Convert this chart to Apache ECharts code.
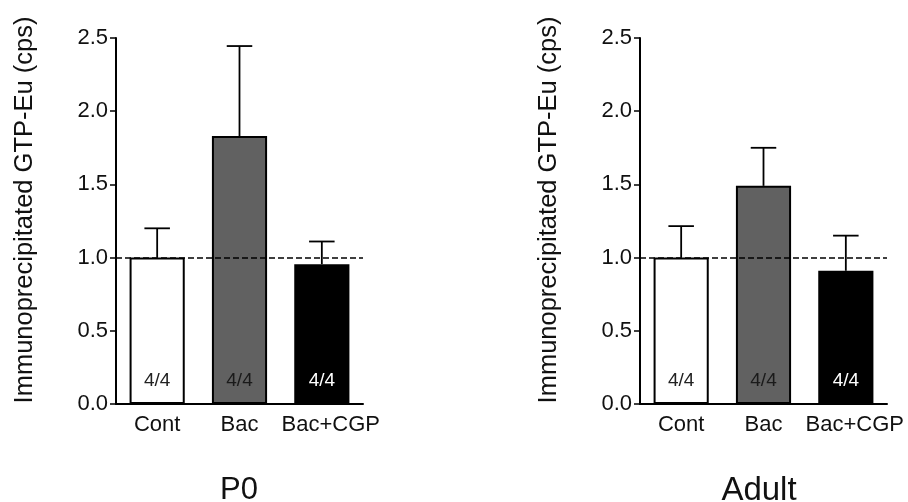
<!DOCTYPE html>
<html>
<head>
<meta charset="utf-8">
<script src="https://cdn.jsdelivr.net/npm/echarts@6/dist/echarts.min.js"></script>
<style>html,body{margin:0;padding:0;background:#fff}#c{width:908px;height:502px}</style>
</head>
<body>
<div id="c"></div>
<script>
const categories = ['Cont', 'Bac', 'Bac+CGP'];
const p0Means = [1.0, 1.83, 0.955];
const p0ErrTops = [1.2, 2.445, 1.11];
const adultMeans = [1.0, 1.49, 0.91];
const adultErrTops = [1.215, 1.75, 1.15];
const nLabels = ['4/4', '4/4', '4/4'];
const barColors = ['#ffffff', '#616161', '#000000'];
const labelColors = ['#222222', '#1a1a1a', '#ffffff'];
const panelTitles = ['P0', 'Adult'];
const yName = 'Immunoprecipitated GTP-Eu (cps)';
const yTicks = [0, 0.5, 1.0, 1.5, 2.0, 2.5];
const refLine = 1.0;

const FONT = 'Liberation Sans, Arial, sans-serif';
const chart = echarts.init(document.getElementById('c'), null, {renderer: 'canvas'});

const grids = [
  {left: 116, top: 38, width: 247, height: 366},
  {left: 640, top: 38, width: 247, height: 366}
];

function xAxis(i) {
  return {
    type: 'category', gridIndex: i, data: categories,
    axisLine: {lineStyle: {color: '#000', width: 2}},
    axisTick: {alignWithLabel: true, length: 5, lineStyle: {color: '#000', width: 1.5}},
    axisLabel: {interval: 0, hideOverlap: false, fontFamily: FONT, fontSize: 22, color: '#111', margin: 10,
      formatter: (v, idx) => idx === categories.length - 1 ? '{s|' + v + '}' : v,
      rich: {s: {fontFamily: FONT, fontSize: 22, color: '#111', padding: [0, 0, 0, 18]}}}
  };
}
function yAxis(i) {
  return {
    type: 'value', gridIndex: i, min: yTicks[0], max: yTicks[yTicks.length - 1], interval: 0.5,
    name: yName, nameLocation: 'middle', nameGap: 78, nameRotate: 90,
    nameTextStyle: {fontFamily: FONT, fontSize: 25.5, color: '#111', padding: [0, 0, 0, 22]},
    splitLine: {show: false},
    axisLine: {show: true, lineStyle: {color: '#000', width: 2}},
    axisTick: {show: true, length: 6, lineStyle: {color: '#000', width: 1.5}},
    axisLabel: {fontFamily: FONT, fontSize: 22, color: '#111', margin: 8,
      formatter: v => v.toFixed(1)}
  };
}
function barSeries(i, means) {
  return {
    type: 'bar', xAxisIndex: i, yAxisIndex: i, barWidth: '67%', z: 2,
    data: means.map((v, k) => ({
      value: v,
      itemStyle: {color: barColors[k], borderColor: '#000', borderWidth: 2},
      label: {show: true, position: 'insideBottom', distance: 14, formatter: nLabels[k],
        fontFamily: FONT, fontSize: 19, color: labelColors[k]}
    })),
    markLine: {
      silent: true, symbol: ['none', 'none'], z: 5,
      label: {show: false},
      lineStyle: {color: '#000', type: [6, 3], width: 1.5},
      data: [{yAxis: refLine}]
    }
  };
}
function errSeries(i, means, tops) {
  return {
    type: 'custom', xAxisIndex: i, yAxisIndex: i, z: 3,
    data: means.map((m, k) => [k, m, tops[k]]),
    renderItem: function (params, api) {
      const base = api.coord([api.value(0), api.value(1)]);
      const top = api.coord([api.value(0), api.value(2)]);
      const half = api.size([1, 0])[0] * 0.155;
      const style = {stroke: '#000', lineWidth: 1.8, fill: null};
      return {
        type: 'group',
        children: [
          {type: 'line', shape: {x1: base[0], y1: base[1], x2: top[0], y2: top[1]}, style: style},
          {type: 'line', shape: {x1: top[0] - half, y1: top[1], x2: top[0] + half, y2: top[1]}, style: style}
        ]
      };
    }
  };
}

chart.setOption({
  backgroundColor: '#fff',
  animation: false,
  title: [
    {text: panelTitles[0], left: 234, top: 470, textAlign: 'center',
      textStyle: {fontFamily: FONT, fontSize: 31, fontWeight: 'normal', color: '#111'}},
    {text: panelTitles[1], left: 754, top: 469, textAlign: 'center',
      textStyle: {fontFamily: FONT, fontSize: 33, fontWeight: 'normal', color: '#111'}}
  ],
  grid: grids,
  xAxis: [xAxis(0), xAxis(1)],
  yAxis: [yAxis(0), yAxis(1)],
  series: [
    barSeries(0, p0Means), errSeries(0, p0Means, p0ErrTops),
    barSeries(1, adultMeans), errSeries(1, adultMeans, adultErrTops)
  ]
});
</script>
</body>
</html>
